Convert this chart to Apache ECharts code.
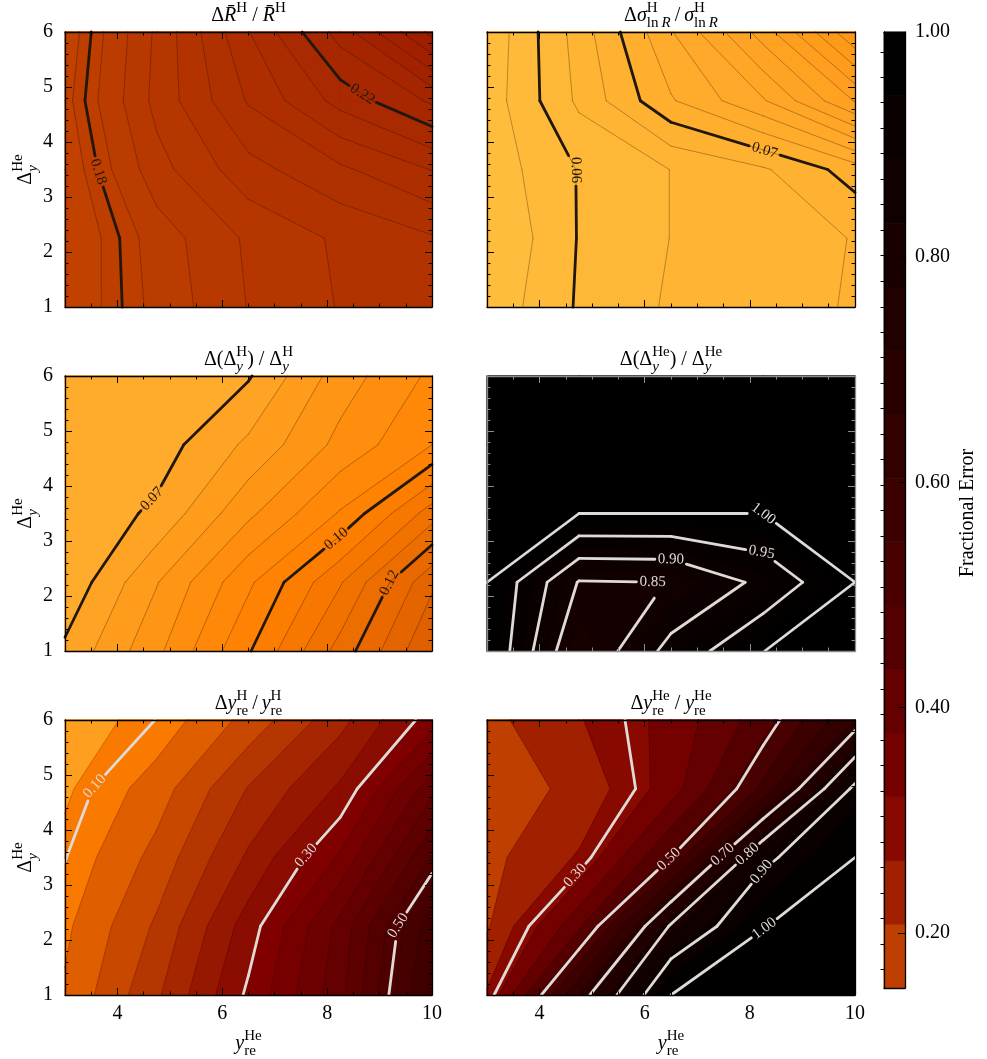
<!DOCTYPE html>
<html><head><meta charset="utf-8">
<script src="https://cdn.jsdelivr.net/npm/echarts@6/dist/echarts.min.js"></script>
<style>html,body{margin:0;padding:0;background:#fff}#c{width:987px;height:1059px}</style>
</head><body><div id="c"></div>
<script>
// ---------------- DATA ----------------
const xGrid = [3, 4.75, 6.5, 8.25, 10];          // y_re^He sample points
const yGrid = [1, 2.25, 3.5, 4.75, 6];            // Delta_y^He sample points
const xTicks = [4, 6, 8, 10];
const cbTicks = [0.2, 0.4, 0.6, 0.8, 1.0];

// rows: y = 1 (bottom) ... 6 (top); columns: x = 3 ... 10
const zRbar = [
  [0.1737, 0.1838, 0.1920, 0.1968, 0.2003],
  [0.1732, 0.1846, 0.1926, 0.1973, 0.2007],
  [0.1745, 0.1900, 0.1995, 0.2050, 0.2108],
  [0.1763, 0.1933, 0.2064, 0.2170, 0.2255],
  [0.1749, 0.1927, 0.2104, 0.2268, 0.2449]];
const levRbar = [0.1636,0.1683,0.1730,0.1777,0.1824,0.1871,0.1918,0.1965,0.2012,0.2059,0.2106,0.2153,0.2200,0.2247,0.2294,0.2341,0.2388,0.2435,0.2482];
const labLevRbar = [0.18, 0.22];
const labTxtRbar = ['0.18', '0.22'];

const zSig = [
  [0.0571, 0.0602, 0.0619, 0.0626, 0.0635],
  [0.0565, 0.0601, 0.0617, 0.0626, 0.0634],
  [0.0572, 0.0601, 0.0617, 0.0631, 0.0658],
  [0.0573, 0.0620, 0.0665, 0.0698, 0.0751],
  [0.0570, 0.0624, 0.0682, 0.0741, 0.0815]];
const levSig = [0.0583,0.0600,0.06167,0.06333,0.0650,0.06667,0.06833,0.0700,0.07167,0.07333,0.0750,0.07667,0.07833,0.0800];
const labLevSig = [0.060, 0.065];
const labTxtSig = ['0.06', '0.07'];

const zDyH = [
  [0.0710, 0.0838, 0.0995, 0.1170, 0.1350],
  [0.0660, 0.0797, 0.0940, 0.1095, 0.1290],
  [0.0660, 0.0710, 0.0839, 0.0955, 0.1125],
  [0.0655, 0.0675, 0.0760, 0.0865, 0.0950],
  [0.0655, 0.0670, 0.0695, 0.0825, 0.0910]];
const levDyH = [0.065,0.070,0.075,0.080,0.085,0.090,0.095,0.100,0.105,0.110,0.115,0.120,0.125,0.130,0.135];
const labLevDyH = [0.07, 0.10, 0.12];
const labTxtDyH = ['0.07', '0.10', '0.12'];

const zDyHe = [
  [0.999, 0.801, 0.917, 0.995, 1.25],
  [1.000, 0.847, 0.8502, 0.912, 1.00],
  [1.000, 1.000, 1.000, 1.000, 1.00],
  [1.000, 1.000, 1.000, 1.000, 1.00],
  [1.000, 1.000, 1.000, 1.000, 1.00]];
const levDyHe = [0.800,0.825,0.850,0.875,0.900,0.925,0.950,0.975,1.000];
const labLevDyHe = [0.85, 0.90, 0.95, 1.00];
const labTxtDyHe = ['0.85', '0.90', '0.95', '1.00'];

const zYreH = [
  [0.124, 0.205, 0.306, 0.410, 0.580],
  [0.114, 0.185, 0.285, 0.400, 0.560],
  [0.099, 0.160, 0.245, 0.335, 0.482],
  [0.085, 0.135, 0.212, 0.275, 0.410],
  [0.075, 0.1005, 0.160, 0.230, 0.315]];
const levYreH = [0.09,0.12,0.15,0.18,0.21,0.24,0.27,0.30,0.33,0.36,0.39,0.42,0.45,0.48,0.51,0.54,0.57,0.60];
const labLevYreH = [0.10, 0.30, 0.50];
const labTxtYreH = ['0.10', '0.30', '0.50'];

const zYreHe = [
  [0.27, 0.66, 1.00, 1.20, 1.30],
  [0.20, 0.42, 0.81, 0.99, 1.20],
  [0.19, 0.27, 0.50, 0.88, 1.00],
  [0.18, 0.22, 0.35, 0.56, 0.92],
  [0.19, 0.26, 0.34, 0.464, 0.66]];
const levYreHe = [0.151,0.2076,0.2642,0.3208,0.3774,0.434,0.4906,0.5472,0.6038,0.6604,0.717,0.7736,0.8302,0.8868,0.9434,1.0];
const labLevYreHe = [0.30, 0.50, 0.70, 0.80, 0.90, 1.00];
const labTxtYreHe = ['0.30', '0.50', '0.70', '0.80', '0.90', '1.00'];

const cbLevels = levYreHe;   // colorbar shows the last panel's filled levels

// label placement hints (data coordinates, snapped to the contour)
const spotsRbar = [[3.70, 3.48], [8.62, 4.79]];
const spotsSig = [[4.67, 3.49], [8.26, 3.78]];
const spotsDyH = [[4.72, 3.71], [8.21, 3.00], [9.10, 2.28]];
const spotsDyHe = [[6.15, 2.28], [6.51, 2.72], [8.22, 2.78], [8.26, 3.50]];
const spotsYreH = [[3.57, 4.79], [7.58, 3.55], [9.39, 2.24]];
const spotsYreHe = [[4.74, 3.12], [6.48, 3.45], [7.46, 3.58], [7.91, 3.61], [8.16, 3.29], [8.23, 2.27]];

// ---------------- STYLE / LAYOUT ----------------
const FONT = '"Liberation Serif","DejaVu Serif","Times New Roman",serif';
const DARK = '#21170d', LIGHT = '#dedad6';
const PANELS = [
  {z: zRbar, lev: levRbar, lab: labLevRbar, txt: labTxtRbar, spots: spotsRbar, spine: '#000', thin: 'rgba(25,15,5,0.6)', thick: DARK},
  {z: zSig, lev: levSig, lab: labLevSig, txt: labTxtSig, spots: spotsSig, spine: '#000', thin: 'rgba(25,15,5,0.6)', thick: DARK},
  {z: zDyH, lev: levDyH, lab: labLevDyH, txt: labTxtDyH, spots: spotsDyH, spine: '#000', thin: 'rgba(25,15,5,0.6)', thick: DARK},
  {z: zDyHe, lev: levDyHe, lab: labLevDyHe, txt: labTxtDyHe, spots: spotsDyHe, spine: '#8c8c8c', thin: 'rgba(0,0,0,0.3)', thick: LIGHT},
  {z: zYreH, lev: levYreH, lab: labLevYreH, txt: labTxtYreH, spots: spotsYreH, spine: '#000', thin: 'rgba(0,0,0,0.3)', thick: LIGHT},
  {z: zYreHe, lev: levYreHe, lab: labLevYreHe, txt: labTxtYreHe, spots: spotsYreHe, spine: '#000', thin: 'rgba(0,0,0,0.3)', thick: LIGHT}
];
const GRIDS = [
  {left: 65, top: 32, width: 367, height: 275}, {left: 487, top: 32, width: 368, height: 275},
  {left: 65, top: 376, width: 367, height: 275}, {left: 487, top: 376, width: 368, height: 275},
  {left: 65, top: 720, width: 367, height: 275}, {left: 487, top: 720, width: 368, height: 275}];
const CB = {left: 884, top: 32, width: 21, height: 956};

// afmhot_r with log normalisation (0.01 .. 1)
function cmap(v) {
  let x = -0.5 * Math.log10(Math.max(v, 1e-6));
  x = Math.min(1, Math.max(0, x));
  const c = t => Math.round(255 * Math.min(1, Math.max(0, t)));
  return 'rgb(' + c(2 * x) + ',' + c(2 * x - 0.5) + ',' + c(2 * x - 1) + ')';
}

function clipPoly(poly, level, above) {
  const out = [];
  for (let k = 0; k < poly.length; k++) {
    const a = poly[k], b = poly[(k + 1) % poly.length];
    const ain = above ? a.v >= level : a.v < level;
    const bin = above ? b.v >= level : b.v < level;
    if (ain) out.push(a);
    if (ain !== bin) {
      const t = (level - a.v) / (b.v - a.v);
      out.push({x: a.x + t * (b.x - a.x), y: a.y + t * (b.y - a.y), v: level});
    }
  }
  return out;
}
function cornersPx(P, i, j, api) {
  const Z = P.z;
  return [[i, j], [i + 1, j], [i + 1, j + 1], [i, j + 1]].map(q => {
    const p = api.coord([xGrid[q[0]], yGrid[q[1]]]);
    return {x: p[0], y: p[1], v: Z[q[1]][q[0]]};
  });
}
function cellSegs(c, L) {
  const pts = [];
  [[0, 1], [1, 2], [2, 3], [3, 0]].forEach(e => {
    const a = c[e[0]], b = c[e[1]];
    if ((a.v >= L) !== (b.v >= L)) {
      const t = (L - a.v) / (b.v - a.v);
      pts.push([a.x + t * (b.x - a.x), a.y + t * (b.y - a.y)]);
    }
  });
  if (pts.length === 2) return [[pts[0], pts[1]]];
  if (pts.length === 4) {
    const ctr = (c[0].v + c[1].v + c[2].v + c[3].v) / 4;
    if ((ctr >= L) === (c[0].v >= L)) return [[pts[0], pts[1]], [pts[2], pts[3]]];
    return [[pts[0], pts[3]], [pts[1], pts[2]]];
  }
  return [];
}
function levelSegs(P, L, api) {
  const segs = [];
  for (let j = 0; j < yGrid.length - 1; j++)
    for (let i = 0; i < xGrid.length - 1; i++)
      cellSegs(cornersPx(P, i, j, api), L).forEach(s => segs.push(s));
  return segs;
}
function nearest(a, b, p) {
  const dx = b[0] - a[0], dy = b[1] - a[1];
  const l2 = dx * dx + dy * dy;
  let t = l2 > 0 ? ((p[0] - a[0]) * dx + (p[1] - a[1]) * dy) / l2 : 0;
  t = Math.max(0, Math.min(1, t));
  return [a[0] + t * dx, a[1] + t * dy];
}
function cutSeg(p, q, C, r) {
  const dx = q[0] - p[0], dy = q[1] - p[1], fx = p[0] - C[0], fy = p[1] - C[1];
  const a = dx * dx + dy * dy; if (a < 1e-9) return [];
  const b = 2 * (fx * dx + fy * dy), c = fx * fx + fy * fy - r * r;
  const disc = b * b - 4 * a * c; if (disc <= 0) return [[p, q]];
  const s = Math.sqrt(disc), t1 = (-b - s) / (2 * a), t2 = (-b + s) / (2 * a);
  const lerp = t => [p[0] + t * dx, p[1] + t * dy];
  const res = [];
  if (t1 > 0) res.push([p, lerp(Math.min(t1, 1))]);
  if (t2 < 1) res.push([lerp(Math.max(t2, 0)), q]);
  return res;
}
const mctx = document.createElement('canvas').getContext('2d');
function textW(t) { mctx.font = '15px "Liberation Serif"'; return mctx.measureText(t).width; }
const lineEl = (s, stroke, w) => ({type: 'line', shape: {x1: s[0][0], y1: s[0][1], x2: s[1][0], y2: s[1][1]}, style: {stroke: stroke, lineWidth: w, lineCap: 'round'}});

const cells = [];
for (let j = 0; j < yGrid.length - 1; j++) for (let i = 0; i < xGrid.length - 1; i++) cells.push([i, j]);

const option = {animation: false, backgroundColor: '#fff', grid: [], xAxis: [], yAxis: [], series: [], graphic: []};

PANELS.forEach((P, p) => {
  const g = GRIDS[p];
  option.grid.push({left: g.left, top: g.top, width: g.width, height: g.height, containLabel: false, outerBoundsMode: 'none'});
  const col = P.spine;
  const showX = p >= 4, showY = p % 2 === 0;
  const xMajor = (pos, lab) => ({type: 'value', gridIndex: p, min: 3, max: 10, position: pos, z: 10,
    axisLine: {show: true, onZero: false, lineStyle: {color: col, width: 1.3}},
    axisTick: {show: true, inside: true, length: 7, customValues: xTicks, lineStyle: {color: col, width: 1}},
    axisLabel: {show: lab, customValues: xTicks, margin: 9, fontSize: 20, fontFamily: FONT, color: '#000'},
    splitLine: {show: false}});
  const xMinor = pos => ({type: 'value', gridIndex: p, min: 3, max: 10, interval: 0.5, position: pos, z: 10,
    axisLine: {show: false, onZero: false}, axisTick: {show: true, inside: true, length: 3.5, lineStyle: {color: col, width: 1}},
    axisLabel: {show: false}, splitLine: {show: false}});
  option.xAxis.push(xMajor('bottom', showX), xMinor('bottom'), xMajor('top', false), xMinor('top'));
  const yAx = (pos, lab) => ({type: 'value', gridIndex: p, min: 1, max: 6, interval: 1, position: pos, z: 10,
    axisLine: {show: true, onZero: false, lineStyle: {color: col, width: 1.3}},
    axisTick: {show: true, inside: true, length: 7, lineStyle: {color: col, width: 1}},
    minorTick: {show: true, splitNumber: 5, length: 3.5, lineStyle: {color: col, width: 1}},
    axisLabel: {show: lab, margin: 12, fontSize: 20, fontFamily: FONT, color: '#000'},
    splitLine: {show: false}, minorSplitLine: {show: false}});
  option.yAxis.push(yAx('left', showY), yAx('right', false));

  const xi = 4 * p, yi = 2 * p;
  option.series.push({
    type: 'custom', xAxisIndex: xi, yAxisIndex: yi, z: 1, silent: true, data: cells,
    renderItem: (params, api) => {
      const c = cornersPx(P, api.value(0), api.value(1), api);
      const L = P.lev, children = [];
      for (let b = 0; b <= L.length; b++) {
        let poly = c;
        if (b > 0) poly = clipPoly(poly, L[b - 1], true);
        if (poly.length >= 3 && b < L.length) poly = clipPoly(poly, L[b], false);
        if (poly.length < 3) continue;
        const mid = b === 0 ? L[0] - (L[1] - L[0]) / 2 : (b === L.length ? L[b - 1] + (L[b - 1] - L[b - 2]) / 2 : (L[b - 1] + L[b]) / 2);
        const color = cmap(mid);
        children.push({type: 'polygon', shape: {points: poly.map(q => [q.x, q.y])}, style: {fill: color, stroke: color, lineWidth: 1.3, lineJoin: 'round'}});
      }
      return {type: 'group', children: children};
    }
  });
  option.series.push({
    type: 'custom', xAxisIndex: xi, yAxisIndex: yi, z: 2, silent: true, data: P.lev.map(v => [v]),
    renderItem: (params, api) => ({type: 'group', children: levelSegs(P, api.value(0), api).map(s => lineEl(s, P.thin, 0.5))})
  });
  option.series.push({
    type: 'custom', xAxisIndex: xi, yAxisIndex: yi, z: 3, silent: true, data: P.lab.map(v => [v]),
    renderItem: (params, api) => {
      const k = params.dataIndex, L = api.value(0);
      const segs = levelSegs(P, L, api);
      const h = api.coord(P.spots[k]);
      let best = null, bd = Infinity, bs = null;
      segs.forEach(s => { const q = nearest(s[0], s[1], h); const d = (q[0] - h[0]) ** 2 + (q[1] - h[1]) ** 2; if (d < bd) { bd = d; best = q; bs = s; } });
      const children = [];
      const t = P.txt[k], r = textW(t) / 2 + 3;
      let ang = 0;
      if (best) {
        ang = Math.atan2(-(bs[1][1] - bs[0][1]), bs[1][0] - bs[0][0]);
        if (ang > Math.PI / 2) ang -= Math.PI;
        if (ang < -Math.PI / 2) ang += Math.PI;
      }
      segs.forEach(s => (best ? cutSeg(s[0], s[1], best, r) : [s]).forEach(pp => children.push(lineEl(pp, P.thick, 2.8))));
      if (best) children.push({type: 'text', x: best[0], y: best[1], rotation: ang, z2: 10,
        style: {text: t, fill: P.thick, fontSize: 15, fontFamily: FONT, align: 'center', verticalAlign: 'middle', textAlign: 'center', textVerticalAlign: 'middle'}});
      return {type: 'group', children: children};
    }
  });
});

// colorbar
option.grid.push({left: CB.left, top: CB.top, width: CB.width, height: CB.height, containLabel: false, outerBoundsMode: 'none'});
const cbMinor = [];
for (let v = 0.1674; v <= 1.0; v += 0.02264) cbMinor.push(+v.toFixed(4));
option.xAxis.push(
  {type: 'value', gridIndex: 6, min: 0, max: 1, position: 'bottom', z: 10, axisLine: {show: true, onZero: false, lineStyle: {color: '#000', width: 1.3}}, axisTick: {show: false}, axisLabel: {show: false}, splitLine: {show: false}},
  {type: 'value', gridIndex: 6, min: 0, max: 1, position: 'top', z: 10, axisLine: {show: true, onZero: false, lineStyle: {color: '#000', width: 1.3}}, axisTick: {show: false}, axisLabel: {show: false}, splitLine: {show: false}});
option.yAxis.push(
  {type: 'value', gridIndex: 6, min: cbLevels[0], max: 1.0, position: 'left', z: 10, axisLine: {show: true, onZero: false, lineStyle: {color: '#000', width: 1.3}}, axisTick: {show: false}, axisLabel: {show: false}, splitLine: {show: false}},
  {type: 'value', gridIndex: 6, min: cbLevels[0], max: 1.0, position: 'right', z: 10, axisLine: {show: true, onZero: false, lineStyle: {color: '#000', width: 1.3}},
    axisTick: {show: true, inside: true, length: 7, customValues: cbTicks, lineStyle: {color: '#000', width: 1}},
    axisLabel: {show: true, customValues: cbTicks, formatter: v => v.toFixed(2), margin: 10, fontSize: 20, fontFamily: FONT, color: '#000'}, splitLine: {show: false}},
  {type: 'value', gridIndex: 6, min: cbLevels[0], max: 1.0, position: 'right', z: 10, axisLine: {show: false},
    axisTick: {show: true, inside: true, length: 3.5, customValues: cbMinor, lineStyle: {color: '#000', width: 1}}, axisLabel: {show: false}, splitLine: {show: false}});
option.series.push({
  type: 'custom', xAxisIndex: 24, yAxisIndex: 12, z: 1, silent: true,
  data: cbLevels.slice(0, -1).map((v, k) => [v, cbLevels[k + 1]]),
  renderItem: (params, api) => {
    const p0 = api.coord([0, api.value(0)]), p1 = api.coord([1, api.value(1)]);
    const color = cmap((api.value(0) + api.value(1)) / 2);
    return {type: 'rect', shape: {x: p0[0], y: p1[1], width: p1[0] - p0[0], height: p0[1] - p1[1]}, style: {fill: color, stroke: color, lineWidth: 0.8}};
  }
});

// texts (titles, axis names)
const base = {fontFamily: FONT, fill: '#000', color: '#000', align: 'left'};
const RICH = {
  n: Object.assign({}, base, {fontSize: 20, lineHeight: 30}),
  i: Object.assign({}, base, {fontSize: 20, lineHeight: 30, fontStyle: 'italic'}),
  sup: Object.assign({}, base, {fontSize: 15, lineHeight: 17, verticalAlign: 'top'}),
  supz: Object.assign({}, base, {fontSize: 15, lineHeight: 17, verticalAlign: 'top', width: 0.01}),
  sub: Object.assign({}, base, {fontSize: 15, lineHeight: 17, verticalAlign: 'bottom'}),
  subi: Object.assign({}, base, {fontSize: 15, lineHeight: 17, verticalAlign: 'bottom', fontStyle: 'italic'}),
  subz: Object.assign({}, base, {fontSize: 15, lineHeight: 17, verticalAlign: 'bottom', width: 0.01}),
  subzi: Object.assign({}, base, {fontSize: 15, lineHeight: 17, verticalAlign: 'bottom', width: 0.01, fontStyle: 'italic'})
};
const TITLES = [
  '{n|Δ}{i|R\u0304}{sup|H}{n| / }{i|R\u0304}{sup|H}',
  '{n|Δ}{i|σ}{supz|H}{sub|ln\u2009}{subi|R}{n|\u2009/\u2009}{i|σ}{supz|H}{sub|ln\u2009}{subi|R}',
  '{n|Δ(Δ}{subzi|y}{sup|H}{n|) / Δ}{subzi|y}{sup|H}',
  '{n|Δ(Δ}{subzi|y}{sup|He}{n|) / Δ}{subzi|y}{sup|He}',
  '{n|Δ}{i|y}{supz|H}{sub|re}{n|\u2009/\u2009}{i|y}{supz|H}{sub|re}',
  '{n|Δ}{i|y}{subz|re}{sup|He}{n| / }{i|y}{subz|re}{sup|He}'
];
const txt = (x, y, text, rot) => ({type: 'text', x: x, y: y, rotation: rot || 0, z: 100,
  style: {text: text, rich: RICH, fontFamily: FONT, fontSize: 20, fill: '#000', align: 'center', verticalAlign: 'middle'}});
GRIDS.forEach((g, p) => option.graphic.push(txt(g.left + g.width / 2, g.top - 16, TITLES[p])));
[0, 2, 4].forEach(p => option.graphic.push(txt(26, GRIDS[p].top + GRIDS[p].height / 2, '{n|Δ}{subzi|y}{sup|He}', Math.PI / 2)));
[4, 5].forEach(p => option.graphic.push(txt(GRIDS[p].left + GRIDS[p].width / 2, 1044, '{i|y}{subz|re}{sup|He}')));
option.graphic.push(txt(968, 513, '{n|Fractional Error}', Math.PI / 2));

const chart = echarts.init(document.getElementById('c'), null, {renderer: 'canvas'});
chart.setOption(option);
</script></body></html>
